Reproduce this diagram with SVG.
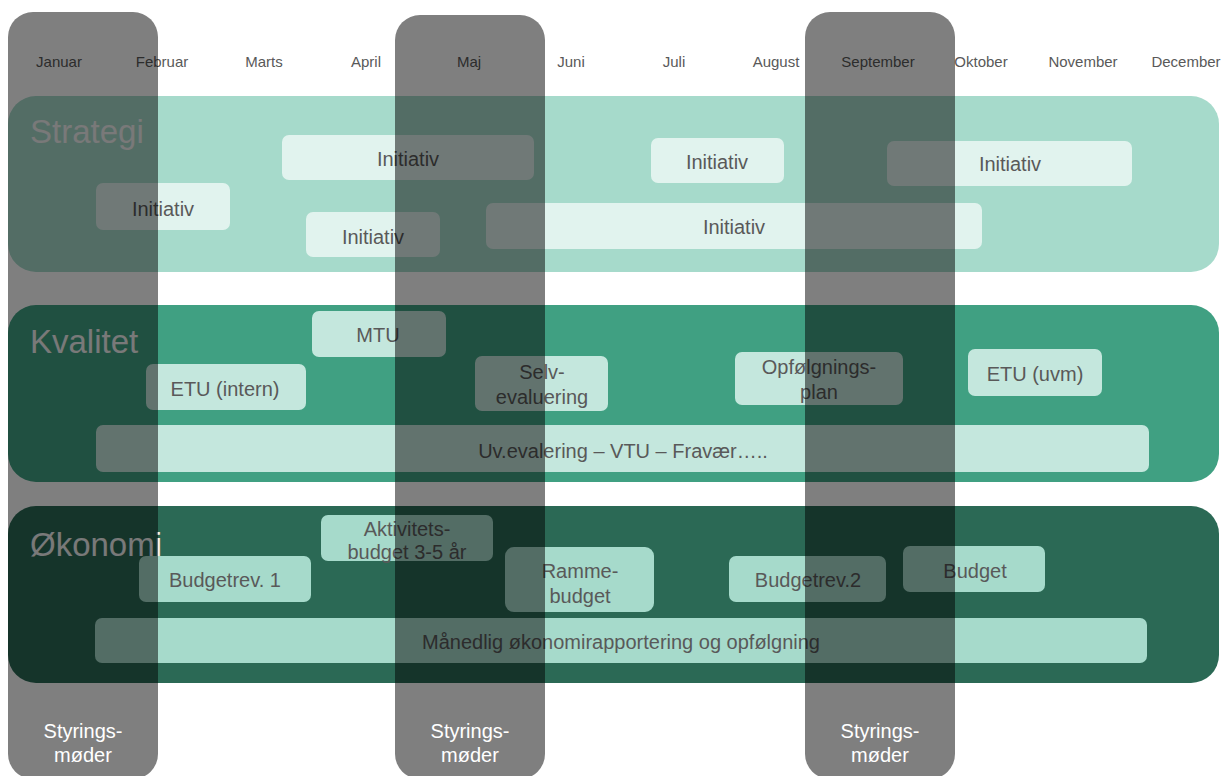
<svg xmlns="http://www.w3.org/2000/svg" width="1222" height="776" viewBox="0 0 1222 776">
<style>
text{font-family:"Liberation Sans",Arial,sans-serif;}
.month{font-size:15px;fill:#595959;text-anchor:middle;}
.band-label{font-size:33px;fill:#f2f2f2;}
.bt{font-size:20px;fill:#595959;text-anchor:middle;}
.s-box{fill:#e1f3ee;}
.k-box{fill:#c4e7dd;}
.o-box{fill:#a6dacb;}
.col{fill:#000;fill-opacity:0.5;}
.col-t{font-size:20px;fill:#fff;text-anchor:middle;}
</style>
<rect width="1222" height="776" fill="#fff"/>
<g id="months">
<text class="month" x="59" y="67">Januar</text>
<text class="month" x="162" y="67">Februar</text>
<text class="month" x="264" y="67">Marts</text>
<text class="month" x="366" y="67">April</text>
<text class="month" x="469" y="67">Maj</text>
<text class="month" x="571" y="67">Juni</text>
<text class="month" x="674" y="67">Juli</text>
<text class="month" x="776" y="67">August</text>
<text class="month" x="878" y="67">September</text>
<text class="month" x="981" y="67">Oktober</text>
<text class="month" x="1083" y="67">November</text>
<text class="month" x="1186" y="67">December</text>
</g>
<g id="band-strategi">
<rect x="8" y="96" width="1211" height="176" rx="28" fill="#a6dacb"/>
<text class="band-label" x="30" y="143">Strategi</text>
</g>
<g id="band-kvalitet">
<rect x="8" y="305" width="1211" height="177" rx="28" fill="#40a082"/>
<text class="band-label" x="30" y="353">Kvalitet</text>
</g>
<g id="band-okonomi">
<rect x="8" y="506" width="1211" height="177" rx="28" fill="#2b6955"/>
<text class="band-label" x="30" y="556">Økonomi</text>
</g>
<g id="s1"><rect class="s-box" x="282" y="135" width="252" height="45" rx="7"/><text class="bt" x="408" y="166">Initiativ</text></g>
<g id="s2"><rect class="s-box" x="96" y="183" width="134" height="47" rx="7"/><text class="bt" x="163" y="216">Initiativ</text></g>
<g id="s3"><rect class="s-box" x="306" y="212" width="134" height="45" rx="7"/><text class="bt" x="373" y="244">Initiativ</text></g>
<g id="s4"><rect class="s-box" x="651" y="138" width="133" height="45" rx="7"/><text class="bt" x="717" y="169">Initiativ</text></g>
<g id="s5"><rect class="s-box" x="887" y="141" width="245" height="45" rx="7"/><text class="bt" x="1010" y="171">Initiativ</text></g>
<g id="s6"><rect class="s-box" x="486" y="203" width="496" height="46" rx="7"/><text class="bt" x="734" y="234">Initiativ</text></g>
<g id="k1"><rect class="k-box" x="312" y="311" width="134" height="46" rx="7"/><text class="bt" x="378" y="342">MTU</text></g>
<g id="k2"><rect class="k-box" x="146" y="364" width="160" height="46" rx="7"/><text class="bt" x="225" y="396">ETU (intern)</text></g>
<g id="k3"><rect class="k-box" x="475" y="356" width="133" height="55" rx="7"/><text class="bt" x="542" y="379">Selv-</text><text class="bt" x="542" y="404">evaluering</text></g>
<g id="k4"><rect class="k-box" x="735" y="352" width="168" height="53" rx="7"/><text class="bt" x="819" y="374">Opfølgnings-</text><text class="bt" x="819" y="399">plan</text></g>
<g id="k5"><rect class="k-box" x="968" y="349" width="134" height="47" rx="7"/><text class="bt" x="1035" y="381">ETU (uvm)</text></g>
<g id="k6"><rect class="k-box" x="96" y="425" width="1053" height="47" rx="7"/><text class="bt" x="623" y="458">Uv.evalering – VTU – Fravær…..</text></g>
<g id="o1"><rect class="o-box" x="321" y="515" width="172" height="46" rx="7"/><text class="bt" x="407" y="536">Aktivitets-</text><text class="bt" x="407" y="559">budget 3-5 år</text></g>
<g id="o2"><rect class="o-box" x="139" y="556" width="172" height="46" rx="7"/><text class="bt" x="225" y="587">Budgetrev. 1</text></g>
<g id="o3"><rect class="o-box" x="505" y="547" width="149" height="65" rx="9"/><text class="bt" x="580" y="578">Ramme-</text><text class="bt" x="580" y="603">budget</text></g>
<g id="o4"><rect class="o-box" x="729" y="556" width="157" height="46" rx="7"/><text class="bt" x="808" y="587">Budgetrev.2</text></g>
<g id="o5"><rect class="o-box" x="903" y="546" width="142" height="46" rx="7"/><text class="bt" x="975" y="578">Budget</text></g>
<g id="o6"><rect class="o-box" x="95" y="618" width="1052" height="45" rx="7"/><text class="bt" x="621" y="649">Månedlig økonomirapportering og opfølgning</text></g>
<g id="connectors"></g>
<g id="styring1"><rect class="col" x="8" y="12" width="150" height="767" rx="25"/><text class="col-t" x="83" y="738">Styrings-</text><text class="col-t" x="83" y="762">møder</text></g>
<g id="styring2"><rect class="col" x="395" y="15" width="150" height="764" rx="25"/><text class="col-t" x="470" y="738">Styrings-</text><text class="col-t" x="470" y="762">møder</text></g>
<g id="styring3"><rect class="col" x="805" y="12" width="150" height="767" rx="25"/><text class="col-t" x="880" y="738">Styrings-</text><text class="col-t" x="880" y="762">møder</text></g>
</svg>
